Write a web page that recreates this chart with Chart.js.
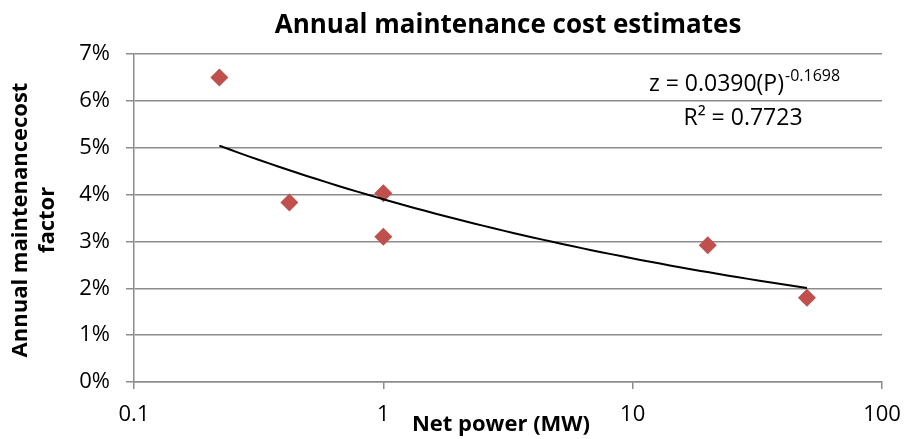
<!DOCTYPE html>
<html>
<head>
<meta charset="utf-8">
<script src="https://cdn.jsdelivr.net/npm/chart.js@4"></script>
<style>
  html, body { margin: 0; padding: 0; background: #fff; }
  #wrap { width: 905px; height: 439px; }
</style>
</head>
<body>
<div id="wrap"><canvas id="c" width="905" height="439"></canvas></div>
<script>
// ---- data ----
const netPowerMW = [0.22, 0.42, 1.0, 1.0, 20, 50];
const maintFactorPct = [6.5, 3.83, 4.03, 3.1, 2.92, 1.8];
const xTickValues = [0.1, 1, 10, 100];
const yTickValues = [0, 1, 2, 3, 4, 5, 6, 7];
// power-law trendline shown on the chart: z = 0.0390 (P)^-0.1698
const trendCoef = 0.0390;
const trendExp = -0.1698;
const trendR2 = '0.7723';
const chartTitle = 'Annual maintenance cost estimates';
const xTitle = 'Net power (MW)';
const yTitleLines = ['Annual maintenancecost', 'factor'];

const scatterPts = netPowerMW.map((x, i) => ({ x: x, y: maintFactorPct[i] }));
const pMin = Math.min(...netPowerMW), pMax = Math.max(...netPowerMW);
const trendPts = [];
const nSteps = 60;
for (let i = 0; i <= nSteps; i++) {
  const p = Math.pow(10, Math.log10(pMin) + (Math.log10(pMax) - Math.log10(pMin)) * i / nSteps);
  trendPts.push({ x: p, y: 100 * trendCoef * Math.pow(p, trendExp) });
}

const FONT = '"Open Sans", sans-serif';

const textPlugin = {
  id: 'texts',
  afterDraw(chart) {
    const ctx = chart.ctx;
    ctx.save();
    ctx.fillStyle = '#000';
    // title
    ctx.font = 'bold 26px ' + FONT;
    ctx.textAlign = 'center';
    ctx.textBaseline = 'middle';
    ctx.fillText(chartTitle, 508, 26);
    // x title
    ctx.font = 'bold 22px ' + FONT;
    ctx.fillText(xTitle, 501, 425);
    // y title
    ctx.save();
    ctx.translate(0, 220);
    ctx.rotate(-Math.PI / 2);
    ctx.fillText(yTitleLines[0], 0, 21);
    ctx.fillText(yTitleLines[1], 0, 48);
    ctx.restore();
    // equation
    const base = 'z = ' + trendCoef.toFixed(4) + '(P)';
    const sup = trendExp.toFixed(4);
    ctx.font = '23px ' + FONT;
    const wb = ctx.measureText(base).width;
    ctx.font = '16px ' + FONT;
    const ws = ctx.measureText(sup).width;
    const cx = 744;
    const x0 = cx - (wb + ws) / 2;
    ctx.textAlign = 'left';
    ctx.textBaseline = 'middle';
    ctx.font = '23px ' + FONT;
    ctx.fillText(base, x0, 84);
    ctx.font = '16px ' + FONT;
    ctx.fillText(sup, x0 + wb + 1, 76);
    ctx.font = '23px ' + FONT;
    ctx.textAlign = 'center';
    ctx.fillText('R\u00B2 = ' + trendR2, 743, 118);
    ctx.restore();
  }
};

new Chart(document.getElementById('c'), {
  data: {
    datasets: [
      {
        type: 'line',
        label: 'Power trendline',
        data: trendPts,
        borderColor: '#000',
        borderWidth: 2,
        pointRadius: 0,
        fill: false,
        tension: 0
      },
      {
        type: 'scatter',
        label: 'Maintenance factor',
        data: scatterPts,
        pointStyle: 'rectRot',
        pointRadius: 9,
        backgroundColor: '#c0504d',
        borderColor: '#c0504d',
        borderWidth: 0
      }
    ]
  },
  options: {
    responsive: false,
    devicePixelRatio: 1,
    animation: false,
    layout: { padding: { top: 54, right: 23, left: 0, bottom: 0 } },
    plugins: {
      legend: { display: false },
      title: { display: false },
      tooltip: { enabled: false }
    },
    scales: {
      x: {
        type: 'logarithmic',
        min: 0.1,
        max: 100,
        afterBuildTicks(scale) { scale.ticks = xTickValues.map(v => ({ value: v })); },
        afterFit(scale) {
          scale.height = 439 - 382;
          scale.paddingLeft = 0;
          scale.paddingRight = 0;
        },
        ticks: {
          autoSkip: false,
          maxRotation: 0,
          padding: 13,
          color: '#000',
          font: { family: FONT, size: 22 },
          callback: (v) => String(v)
        },
        grid: { drawOnChartArea: false, drawTicks: true, tickLength: 7, color: '#8c8c8c', lineWidth: 1.5 },
        border: { display: true, color: '#8c8c8c', width: 1.5 }
      },
      y: {
        type: 'linear',
        min: 0,
        max: 7,
        afterBuildTicks(scale) { scale.ticks = yTickValues.map(v => ({ value: v })); },
        afterFit(scale) {
          scale.width = 134;
          scale.paddingTop = 0;
          scale.paddingBottom = 0;
        },
        ticks: {
          padding: 16,
          color: '#000',
          font: { family: FONT, size: 22 },
          callback: (v) => v + '%'
        },
        grid: { color: '#8c8c8c', lineWidth: 1.5, drawTicks: true, tickLength: 8 },
        border: { display: true, color: '#8c8c8c', width: 1.5 }
      }
    }
  },
  plugins: [textPlugin]
});
</script>
</body>
</html>
